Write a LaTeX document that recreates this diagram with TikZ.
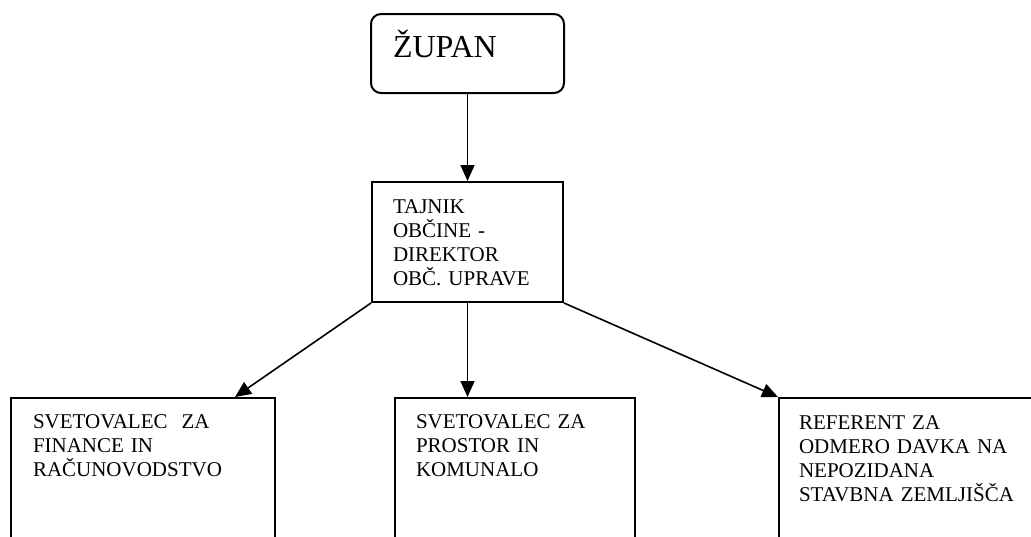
\documentclass[tikz,border=0pt]{standalone}
\usepackage{fontspec}
\setmainfont{Liberation Serif}
\usepackage{tikz}
\usetikzlibrary{shapes,arrows.meta,positioning}

\tikzset{
  okvir/.style={draw,rectangle,line width=2pt,anchor=north west,align=left,
    inner ysep=0pt,font=\fontsize{21}{24}\selectfont},
  puscica/.style={-{Triangle[width=14pt,length=16pt]},line width=1.6pt}
}

\begin{document}
\begin{tikzpicture}[x=1pt,y=-1pt]
\clip (0,0) rectangle (1031,536);

\node[okvir,rounded corners=10pt,inner xsep=22pt,text width=149pt,text height=43pt,text depth=36pt,
  font=\fontsize{32}{36}\selectfont](zupan) at (370,13) {ŽUPAN};
\node[okvir,inner xsep=21pt,text width=149pt,text height=31pt,text depth=89pt](tajnik) at (371,181)
  {TAJNIK\\OBČINE -\\DIREKTOR\\OBČ. UPRAVE};

\node[okvir,inner xsep=22pt,text width=220pt,text height=30pt,text depth=140pt](fin) at (10,397)
  {SVETOVALEC\ \ ZA\\FINANCE IN\\RAČUNOVODSTVO};
\node[okvir,inner xsep=21pt,text width=198pt,text height=30pt,text depth=140pt](kom) at (394,397)
  {SVETOVALEC ZA\\PROSTOR IN\\KOMUNALO};
\node[okvir,inner xsep=20pt,text width=240pt,text height=31pt,text depth=140pt](ref) at (778,397)
  {REFERENT ZA\\ODMERO DAVKA NA\\NEPOZIDANA\\STAVBNA ZEMLJIŠČA};

\draw[puscica](zupan.south)--(tajnik.north);
\draw[puscica](tajnik.south west)--([xshift=-41pt]fin.north east);
\draw[puscica](tajnik.south)--(tajnik.south |- kom.north);
\draw[puscica](tajnik.south east)--(ref.north west);
\end{tikzpicture}
\end{document}
